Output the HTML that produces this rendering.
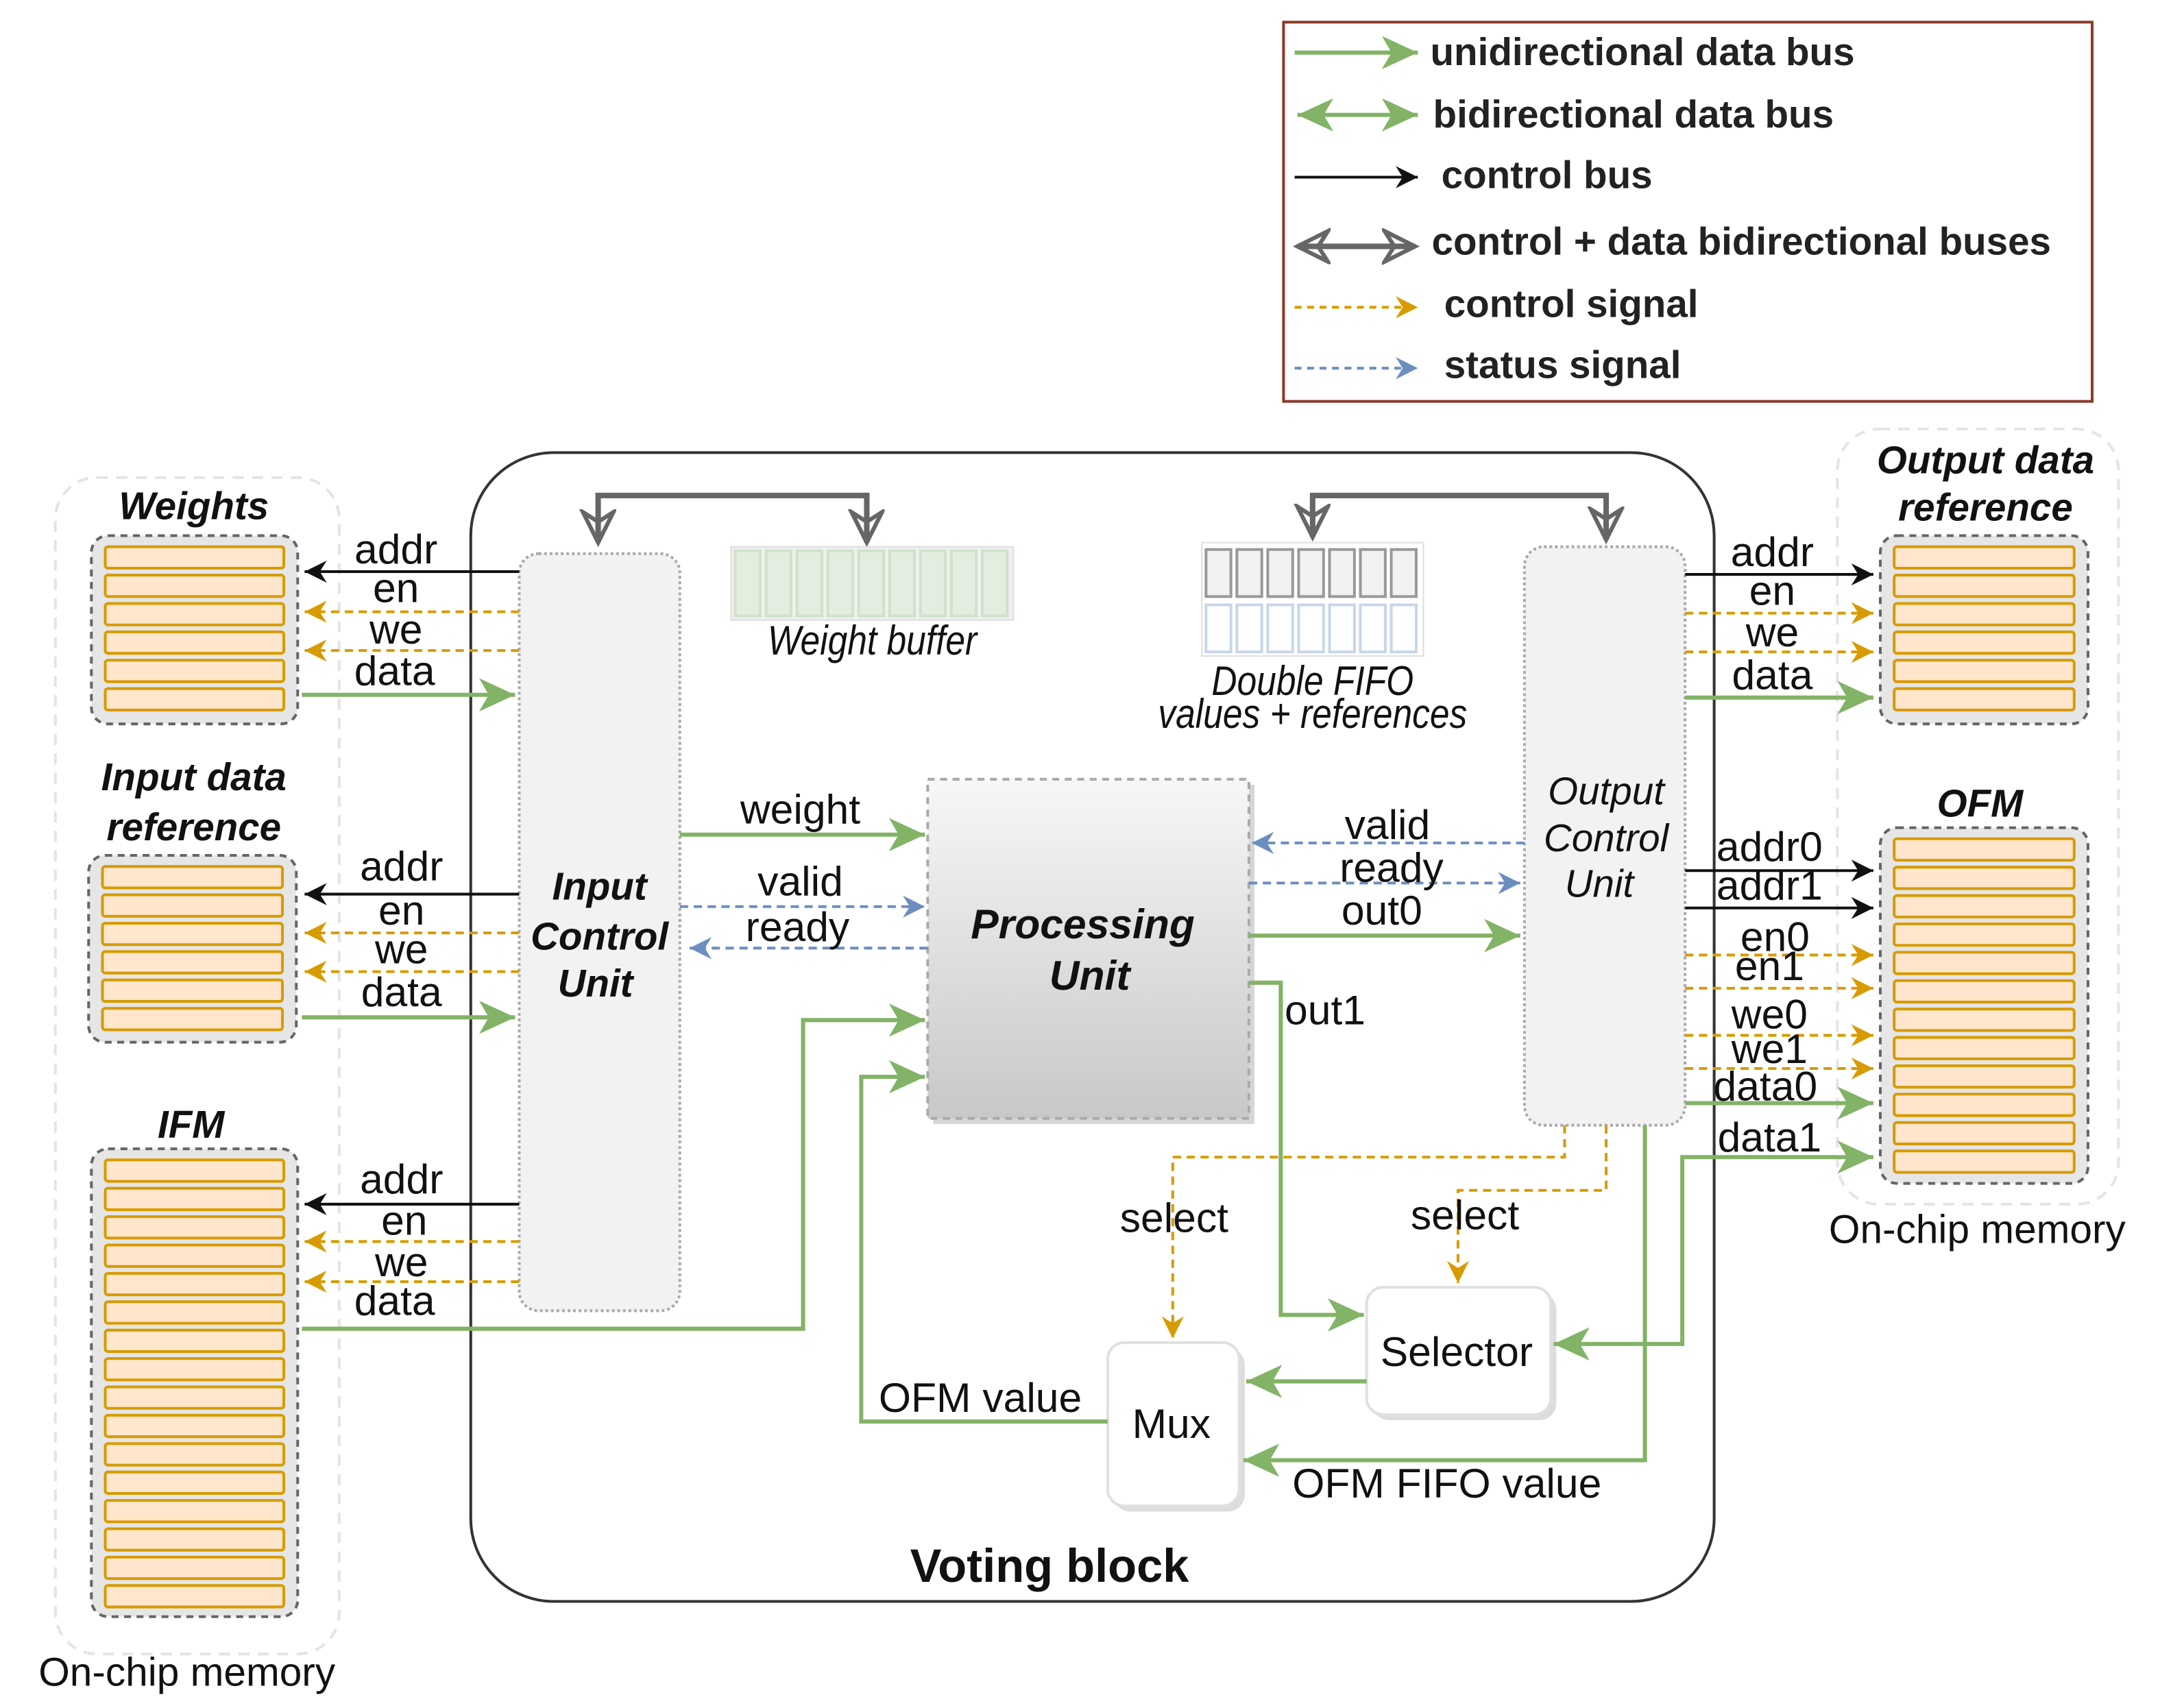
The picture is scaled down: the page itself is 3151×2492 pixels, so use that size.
<!DOCTYPE html>
<html><head><meta charset="utf-8"><style>
html,body{margin:0;padding:0;background:#fff;}
svg{display:block;}
text{font-family:"Liberation Sans",sans-serif;fill:#111;}
.l{font-size:30px;text-anchor:middle;}
.bi{font-weight:bold;font-style:italic;font-size:28px;text-anchor:middle;}
.lg{font-size:28px;font-weight:bold;fill:#222;}
</style></head><body>
<svg id="s" width="3151" height="2492" viewBox="0 0 1560 1234" preserveAspectRatio="none" xmlns="http://www.w3.org/2000/svg">
<defs>
<marker id="ag" markerUnits="userSpaceOnUse" markerWidth="30" markerHeight="30" refX="26" refY="13" orient="auto"><path d="M0,1 L26,13 L0,25 L7,13 Z" fill="#82b366"/></marker>
<marker id="agS" markerUnits="userSpaceOnUse" markerWidth="30" markerHeight="30" refX="26" refY="13" orient="auto-start-reverse"><path d="M0,1 L26,13 L0,25 L7,13 Z" fill="#82b366"/></marker>
<marker id="ak" markerUnits="userSpaceOnUse" markerWidth="20" markerHeight="20" refX="16" refY="8" orient="auto"><path d="M0,0 L16,8 L0,16 L5,8 Z" fill="#111"/></marker>
<marker id="ao" markerUnits="userSpaceOnUse" markerWidth="20" markerHeight="20" refX="16" refY="8" orient="auto"><path d="M0,0 L16,8 L0,16 L5,8 Z" fill="#d79b00"/></marker>
<marker id="ab" markerUnits="userSpaceOnUse" markerWidth="20" markerHeight="20" refX="16" refY="8" orient="auto"><path d="M0,0 L16,8 L0,16 L5,8 Z" fill="#6c8ebf"/></marker>
<marker id="ay" markerUnits="userSpaceOnUse" markerWidth="30" markerHeight="30" refX="24" refY="13" orient="auto-start-reverse"><path d="M2,2 L24,13 L2,24 L9,13 Z" fill="none" stroke="#666" stroke-width="3"/></marker>
<linearGradient id="pg" x1="0" y1="0" x2="0" y2="1"><stop offset="0" stop-color="#f7f7f7"/><stop offset="1" stop-color="#c8c8c8"/></linearGradient>
</defs>

<rect x="927" y="16" width="584" height="274" fill="#fff" stroke="#8b3a2a" stroke-width="2"/>
<g stroke-width="3" fill="none">
<line x1="935" y1="38" x2="1024" y2="38" stroke="#82b366" marker-end="url(#ag)"/>
<line x1="937" y1="83" x2="1024" y2="83" stroke="#82b366" marker-end="url(#ag)" marker-start="url(#agS)"/>
<line x1="935" y1="128" x2="1024" y2="128" stroke="#111" stroke-width="2" marker-end="url(#ak)"/>
<line x1="937" y1="178" x2="1022" y2="178" stroke="#666" stroke-width="4" marker-end="url(#ay)" marker-start="url(#ay)"/>
<line x1="935" y1="222" x2="1024" y2="222" stroke="#d79b00" stroke-width="2" stroke-dasharray="5,4" marker-end="url(#ao)"/>
<line x1="935" y1="266" x2="1024" y2="266" stroke="#6c8ebf" stroke-width="2" stroke-dasharray="5,4" marker-end="url(#ab)"/>
</g>
<text class="lg" x="1033" y="47">unidirectional data bus</text>
<text class="lg" x="1035" y="92">bidirectional data bus</text>
<text class="lg" x="1041" y="136">control bus</text>
<text class="lg" x="1034" y="184">control + data bidirectional buses</text>
<text class="lg" x="1043" y="229">control signal</text>
<text class="lg" x="1043" y="273">status signal</text>

<rect x="40" y="345" width="205" height="850" rx="30" fill="none" stroke="#e4e4e4" stroke-width="2" stroke-dasharray="8,6"/>
<rect x="1327" y="310" width="203" height="560" rx="30" fill="none" stroke="#e4e4e4" stroke-width="2" stroke-dasharray="8,6"/>
<text x="135" y="1218" style="font-size:29px" text-anchor="middle">On-chip memory</text>
<text x="1428" y="898" style="font-size:29px" text-anchor="middle">On-chip memory</text>

<rect x="340" y="327" width="898" height="830" rx="60" fill="none" stroke="#333" stroke-width="2"/>
<text x="758" y="1143" style="font-size:34px;font-weight:bold" text-anchor="middle">Voting block</text>

<g id="mems"></g>
<text class="bi" x="140" y="375">Weights</text>
<text class="bi" x="140" y="571">Input data</text>
<text class="bi" x="140" y="607">reference</text>
<text class="bi" x="138" y="822">IFM</text>
<text class="bi" x="1434" y="342">Output data</text>
<text class="bi" x="1434" y="376">reference</text>
<text class="bi" x="1430" y="590">OFM</text>

<g fill="none" stroke="#666" stroke-width="4">
<polyline points="432,392 432,358 626,358 626,392" marker-start="url(#ay)" marker-end="url(#ay)"/>
<polyline points="948,388 948,358 1160,358 1160,390" marker-start="url(#ay)" marker-end="url(#ay)"/>
</g>
<g id="bufs"></g>
<text x="630" y="473" style="font-size:30px;font-style:italic" text-anchor="middle" transform="translate(630,0) scale(0.85,1) translate(-630,0)">Weight buffer</text>
<text x="948" y="502" style="font-size:30px;font-style:italic" text-anchor="middle" transform="translate(948,0) scale(0.85,1) translate(-948,0)">Double FIFO</text>
<text x="948" y="526" style="font-size:30px;font-style:italic" text-anchor="middle" transform="translate(948,0) scale(0.85,1) translate(-948,0)">values + references</text>

<rect x="375" y="400" width="116" height="547" rx="14" fill="#f2f2f2" stroke="#aaa" stroke-width="2" stroke-dasharray="2,2"/>
<text class="bi" x="433" y="650">Input</text>
<text class="bi" x="433" y="686">Control</text>
<text class="bi" x="430" y="720">Unit</text>

<rect x="1101" y="395" width="116" height="418" rx="14" fill="#f2f2f2" stroke="#aaa" stroke-width="2" stroke-dasharray="2,2"/>
<g style="font-size:28px;font-style:italic" text-anchor="middle">
<text x="1160" y="581">Output</text><text x="1160" y="615">Control</text><text x="1155" y="648">Unit</text></g>

<rect x="674" y="567" width="232" height="245" fill="#bbb" opacity="0.6"/>
<rect x="670" y="563" width="232" height="245" fill="url(#pg)" stroke="#aaa" stroke-width="2" stroke-dasharray="5,4"/>
<text class="bi" x="782" y="678" style="font-size:30px">Processing</text>
<text class="bi" x="787" y="715" style="font-size:30px">Unit</text>

<rect x="991" y="934" width="133" height="92" rx="12" fill="#ddd"/>
<rect x="987" y="930" width="133" height="92" rx="12" fill="#fff" stroke="#e0e0e0" stroke-width="2"/>
<text x="1052" y="987" style="font-size:30px" text-anchor="middle">Selector</text>
<rect x="804" y="974" width="95" height="118" rx="12" fill="#ddd"/>
<rect x="800" y="970" width="95" height="118" rx="12" fill="#fff" stroke="#e0e0e0" stroke-width="2"/>
<text x="846" y="1039" style="font-size:30px" text-anchor="middle">Mux</text>

<g fill="none" stroke-width="2">
<line x1="375" y1="413" x2="220" y2="413" stroke="#111" marker-end="url(#ak)"/>
<line x1="375" y1="442" x2="220" y2="442" stroke="#d79b00" stroke-dasharray="6,4" marker-end="url(#ao)"/>
<line x1="375" y1="470" x2="220" y2="470" stroke="#d79b00" stroke-dasharray="6,4" marker-end="url(#ao)"/>
<line x1="218" y1="502" x2="372" y2="502" stroke="#82b366" stroke-width="3" marker-end="url(#ag)"/>
<line x1="375" y1="646" x2="220" y2="646" stroke="#111" marker-end="url(#ak)"/>
<line x1="375" y1="674" x2="220" y2="674" stroke="#d79b00" stroke-dasharray="6,4" marker-end="url(#ao)"/>
<line x1="375" y1="702" x2="220" y2="702" stroke="#d79b00" stroke-dasharray="6,4" marker-end="url(#ao)"/>
<line x1="218" y1="735" x2="372" y2="735" stroke="#82b366" stroke-width="3" marker-end="url(#ag)"/>
<line x1="375" y1="870" x2="220" y2="870" stroke="#111" marker-end="url(#ak)"/>
<line x1="375" y1="897" x2="220" y2="897" stroke="#d79b00" stroke-dasharray="6,4" marker-end="url(#ao)"/>
<line x1="375" y1="926" x2="220" y2="926" stroke="#d79b00" stroke-dasharray="6,4" marker-end="url(#ao)"/>
<polyline points="218,960 580,960 580,737 668,737" stroke="#82b366" stroke-width="3" marker-end="url(#ag)"/>
<line x1="491" y1="603" x2="668" y2="603" stroke="#82b366" stroke-width="3" marker-end="url(#ag)"/>
<line x1="491" y1="655" x2="668" y2="655" stroke="#6c8ebf" stroke-dasharray="6,4" marker-end="url(#ab)"/>
<line x1="670" y1="685" x2="498" y2="685" stroke="#6c8ebf" stroke-dasharray="6,4" marker-end="url(#ab)"/>
<polyline points="800,1027 622,1027 622,778 668,778" stroke="#82b366" stroke-width="3" marker-end="url(#ag)"/>
<line x1="1101" y1="609" x2="904" y2="609" stroke="#6c8ebf" stroke-dasharray="6,4" marker-end="url(#ab)"/>
<line x1="902" y1="638" x2="1098" y2="638" stroke="#6c8ebf" stroke-dasharray="6,4" marker-end="url(#ab)"/>
<line x1="902" y1="676" x2="1098" y2="676" stroke="#82b366" stroke-width="3" marker-end="url(#ag)"/>
<polyline points="902,710 925,710 925,950 985,950" stroke="#82b366" stroke-width="3" marker-end="url(#ag)"/>
<polyline points="1130,813 1130,836 847,836 847,967" stroke="#d79b00" stroke-dasharray="6,4" marker-end="url(#ao)"/>
<polyline points="1160,813 1160,860 1053,860 1053,927" stroke="#d79b00" stroke-dasharray="6,4" marker-end="url(#ao)"/>
<line x1="987" y1="998" x2="900" y2="998" stroke="#82b366" stroke-width="3" marker-end="url(#ag)"/>
<polyline points="1188,813 1188,1055 898,1055" stroke="#82b366" stroke-width="3" marker-end="url(#ag)"/>
<polyline points="1122,971 1215,971 1215,836 1353,836" stroke="#82b366" stroke-width="3" marker-end="url(#ag)" marker-start="url(#agS)"/>
<line x1="1217" y1="415" x2="1353" y2="415" stroke="#111" marker-end="url(#ak)"/>
<line x1="1217" y1="443" x2="1353" y2="443" stroke="#d79b00" stroke-dasharray="6,4" marker-end="url(#ao)"/>
<line x1="1217" y1="471" x2="1353" y2="471" stroke="#d79b00" stroke-dasharray="6,4" marker-end="url(#ao)"/>
<line x1="1217" y1="504" x2="1353" y2="504" stroke="#82b366" stroke-width="3" marker-end="url(#ag)"/>
<line x1="1217" y1="629" x2="1353" y2="629" stroke="#111" marker-end="url(#ak)"/>
<line x1="1217" y1="656" x2="1353" y2="656" stroke="#111" marker-end="url(#ak)"/>
<line x1="1217" y1="690" x2="1353" y2="690" stroke="#d79b00" stroke-dasharray="6,4" marker-end="url(#ao)"/>
<line x1="1217" y1="714" x2="1353" y2="714" stroke="#d79b00" stroke-dasharray="6,4" marker-end="url(#ao)"/>
<line x1="1217" y1="748" x2="1353" y2="748" stroke="#d79b00" stroke-dasharray="6,4" marker-end="url(#ao)"/>
<line x1="1217" y1="772" x2="1353" y2="772" stroke="#d79b00" stroke-dasharray="6,4" marker-end="url(#ao)"/>
<line x1="1217" y1="797" x2="1353" y2="797" stroke="#82b366" stroke-width="3" marker-end="url(#ag)"/>
</g>

<g class="l">
<text class="l" x="286" y="407">addr</text><text class="l" x="286" y="435">en</text><text class="l" x="286" y="465">we</text><text class="l" x="285" y="495">data</text>
<text class="l" x="290" y="636">addr</text><text class="l" x="290" y="668">en</text><text class="l" x="290" y="696">we</text><text class="l" x="290" y="727">data</text>
<text class="l" x="290" y="862">addr</text><text class="l" x="292" y="892">en</text><text class="l" x="290" y="922">we</text><text class="l" x="285" y="950">data</text>
<text class="l" x="578" y="595">weight</text><text class="l" x="578" y="647">valid</text><text class="l" x="576" y="680">ready</text>
<text class="l" x="1002" y="606">valid</text><text class="l" x="1005" y="637">ready</text><text class="l" x="998" y="668">out0</text>
<text class="l" x="957" y="740">out1</text>
<text class="l" x="848" y="890">select</text><text class="l" x="1058" y="888">select</text>
<text class="l" x="708" y="1020">OFM value</text><text class="l" x="1045" y="1082">OFM FIFO value</text>
<text class="l" x="1280" y="409">addr</text><text class="l" x="1280" y="437">en</text><text class="l" x="1280" y="467">we</text><text class="l" x="1280" y="498">data</text>
<text class="l" x="1278" y="622">addr0</text><text class="l" x="1278" y="650">addr1</text><text class="l" x="1282" y="687">en0</text><text class="l" x="1278" y="708">en1</text>
<text class="l" x="1278" y="743">we0</text><text class="l" x="1278" y="768">we1</text><text class="l" x="1275" y="795">data0</text><text class="l" x="1278" y="832">data1</text>
</g>
</svg>
<script>
var NS="http://www.w3.org/2000/svg";
function r(p,a){var e=document.createElementNS(NS,"rect");for(var k in a)e.setAttribute(k,a[k]);p.appendChild(e);}
var m=document.getElementById("mems");
function mem(x,y,w,h,n){
 r(m,{x:x,y:y,width:w,height:h,rx:12,fill:"#e6e6e6",stroke:"#666","stroke-width":2,"stroke-dasharray":"5,4"});
 for(var i=0;i<n;i++) r(m,{x:x+10,y:y+8+i*20.5,width:w-20,height:15.5,rx:2,fill:"#ffe6cc",stroke:"#d79b00","stroke-width":2});
}
mem(66,387,149,136,6);mem(64,618,150,135,6);mem(66,830,149,338,16);
mem(1358,387,150,136,6);mem(1358,598,150,257,12);
var b=document.getElementById("bufs");
r(b,{x:528,y:395,width:204,height:53,fill:"#f0f0f0",stroke:"#ddd"});
for(var i=0;i<9;i++) r(b,{x:531+i*22.3,y:398,width:18,height:47,fill:"#e3eee0",stroke:"#cfe3c8","stroke-width":2});
r(b,{x:868,y:392,width:160,height:82,fill:"#fff",stroke:"#ddd"});
for(var i=0;i<7;i++){r(b,{x:871+i*22.3,y:397,width:18,height:34,fill:"#f2f2f2",stroke:"#999","stroke-width":2});
 r(b,{x:871+i*22.3,y:437,width:18,height:34,fill:"#fff",stroke:"#c8d6ea","stroke-width":2});}
</script>
</body></html>
